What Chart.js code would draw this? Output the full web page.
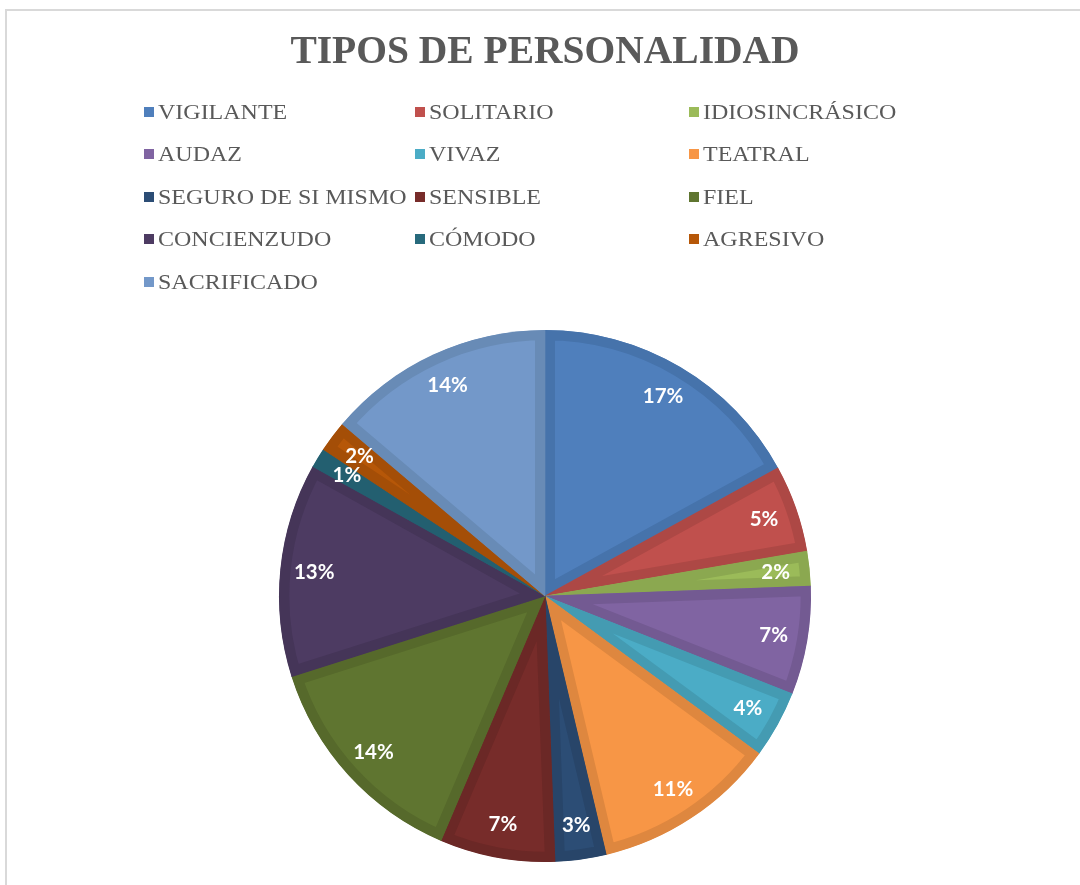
<!DOCTYPE html>
<html>
<head>
<meta charset="utf-8">
<script src="https://cdn.jsdelivr.net/npm/chart.js@4.4.1/dist/chart.umd.min.js"></script>
<style>
  html, body { margin: 0; padding: 0; background: #ffffff; }
  #wrap { position: relative; width: 1080px; height: 885px; overflow: hidden; }
  #frame { position: absolute; left: 5px; top: 9px; width: 1200px; height: 1000px;
           border-left: 2px solid #d9d9d9; border-top: 2px solid #d9d9d9; box-sizing: border-box; }
  #c { position: absolute; left: 0; top: 0; }
  .lg { position: absolute; height: 24px; line-height: 24px; white-space: nowrap;
        font-family: "Liberation Serif", "Times New Roman", serif; font-size: 20.5px; color: #595959; }
  .lg .sw { position: absolute; left: 0; top: 7px; width: 10px; height: 10px; }
  .lg .tx { position: absolute; left: 14px; top: 0; transform: scaleX(1.17); transform-origin: 0 0; }
</style>
</head>
<body>
<div id="wrap">
  <div id="frame"></div>
  <canvas id="c" width="1080" height="885"></canvas>
  <div id="legend"></div>
</div>
<script>
const categories = ["VIGILANTE", "SOLITARIO", "IDIOSINCRÁSICO", "AUDAZ", "VIVAZ", "TEATRAL",
  "SEGURO DE SI MISMO", "SENSIBLE", "FIEL", "CONCIENZUDO", "CÓMODO", "AGRESIVO", "SACRIFICADO"];
const values = [17, 5.3, 2.1, 6.6, 4.1, 11.2, 3.1, 7.0, 13.7, 13, 1.2, 1.9, 13.8];
const fillColors = ["#4F7FBC", "#C0504D", "#9BBB59", "#8064A2", "#4BACC6", "#F79646",
  "#2C4D75", "#772C2A", "#5F7530", "#4D3B62", "#276A7C", "#B65708", "#7398C9"];
const borderColors = ["#4673AB", "#AD4845", "#8BA850", "#735A92", "#449BB2", "#DE873F",
  "#284569", "#6B2826", "#56692B", "#453558", "#235F70", "#A44E07", "#688BB6"];
const chartTitle = "TIPOS DE PERSONALIDAD";

// HTML legend in three fixed columns (built from the data arrays)
const colX = [144, 415, 689];
const legend = document.getElementById('legend');
categories.forEach((name, i) => {
  const d = document.createElement('div');
  d.className = 'lg';
  d.style.left = colX[i % 3] + 'px';
  d.style.top = (99.5 + Math.floor(i / 3) * 42.5) + 'px';
  const sw = document.createElement('span');
  sw.className = 'sw';
  sw.style.background = fillColors[i];
  const tx = document.createElement('span');
  tx.className = 'tx';
  tx.textContent = name;
  d.appendChild(sw); d.appendChild(tx);
  legend.appendChild(d);
});

const pctLabels = {
  id: 'pctLabels',
  afterDatasetsDraw(chart) {
    const ctx = chart.ctx;
    const meta = chart.getDatasetMeta(0);
    const data = chart.data.datasets[0].data;
    const total = data.reduce((a, b) => a + b, 0);
    ctx.save();
    ctx.font = 'bold 20.5px Lato, "Open Sans", sans-serif';
    ctx.fillStyle = '#ffffff';
    ctx.textAlign = 'center';
    ctx.textBaseline = 'middle';
    meta.data.forEach((arc, i) => {
      const p = arc.getProps(['x', 'y', 'startAngle', 'endAngle', 'outerRadius'], true);
      const mid = (p.startAngle + p.endAngle) / 2;
      const r = p.outerRadius * 0.872;
      ctx.fillText(Math.round(data[i] / total * 100) + '%', p.x + Math.cos(mid) * r, p.y + Math.sin(mid) * r);
    });
    ctx.restore();
  }
};

new Chart(document.getElementById('c'), {
  type: 'pie',
  data: {
    labels: categories,
    datasets: [{
      data: values,
      backgroundColor: fillColors,
      borderColor: borderColors,
      borderWidth: 10,
      hoverBorderWidth: 10,
      borderAlign: 'inner',
      offset: 0,
      hoverOffset: 0
    }]
  },
  options: {
    responsive: false,
    animation: false,
    events: [],
    radius: 266,
    layout: { padding: { left: 10, right: 0, top: 0, bottom: 22 } },
    plugins: {
      legend: { display: false },
      tooltip: { enabled: false },
      title: {
        display: true,
        text: chartTitle,
        color: '#595959',
        font: { family: '"Liberation Serif", "Times New Roman", serif', size: 39.5, weight: 'bold', lineHeight: 1.2 },
        padding: { top: 29, bottom: 252.6 }
      }
    }
  },
  plugins: [pctLabels]
});
</script>
</body>
</html>
